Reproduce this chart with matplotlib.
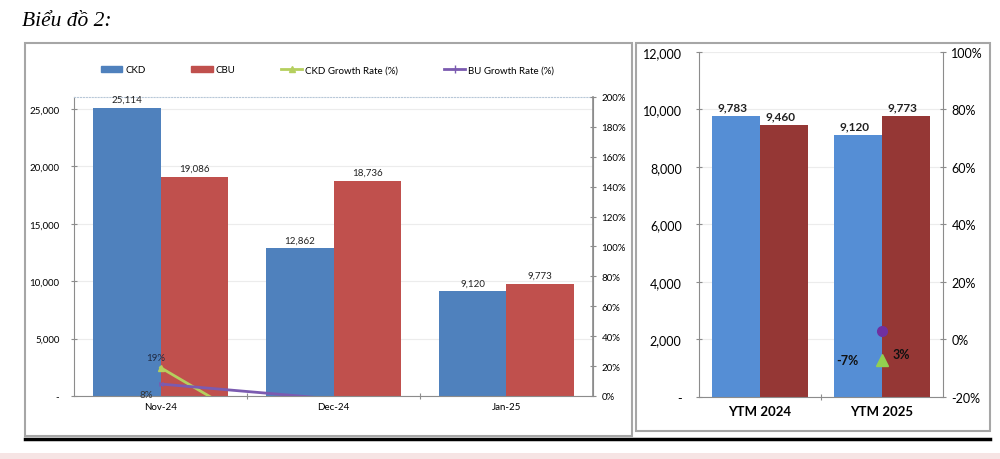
import matplotlib.pyplot as plt
import numpy as np
from matplotlib.patches import Rectangle, Patch
from matplotlib.lines import Line2D
from matplotlib.ticker import FuncFormatter, MultipleLocator

plt.rcParams['font.family'] = ['Lato', 'DejaVu Sans']

# monthly data
months = ['Nov-24', 'Dec-24', 'Jan-25']
ckd = [25114, 12862, 9120]
cbu = [19086, 18736, 9773]
ckd_growth = [19, -49, -29]
cbu_growth = [8, -2, -48]

# year-to-month data
ytm = ['YTM 2024', 'YTM 2025']
ytm_ckd = [9783, 9120]
ytm_cbu = [9460, 9773]
ytm_ckd_growth = -7
ytm_cbu_growth = 3

blue1, red1 = '#4F81BD', '#C0504D'
blue2, red2 = '#558ED5', '#953735'
green, purple = '#B5CF5E', '#7B5BB0'
grey = '#8c8c8c'


def num_fmt(v, pos):
    return '-' if v == 0 else f'{v:,.0f}'


fig = plt.figure(figsize=(10, 4.6), dpi=100)

# frames and decorations
fig.patches.append(Rectangle((0.025, 0.050), 0.607, 0.854, transform=fig.transFigure,
                             fill=False, ec='#a6a6a6', lw=1.5))
fig.patches.append(Rectangle((0.636, 0.061), 0.354, 0.843, transform=fig.transFigure,
                             fill=False, ec='#a6a6a6', lw=1.5))
fig.lines.append(Line2D([0.025, 0.99], [0.043, 0.043], transform=fig.transFigure,
                        color='black', lw=2.5))
fig.patches.append(Rectangle((0, 0), 1, 0.012, transform=fig.transFigure,
                             fc='#f6e4e4', ec='none'))
fig.text(0.022, 0.953, 'Biểu đồ 2:', family='Liberation Serif', style='italic',
         fontsize=15.5, va='center')

# ---- left chart ----
ax = fig.add_axes([0.074, 0.137, 0.519, 0.650])
x = np.arange(len(months))
w = 0.39
b1 = ax.bar(x - w / 2, ckd, w, color=blue1, zorder=2)
b2 = ax.bar(x + w / 2, cbu, w, color=red1, zorder=2)
for rects, vals in ((b1, ckd), (b2, cbu)):
    for r, v in zip(rects, vals):
        ax.text(r.get_x() + r.get_width() / 2, v + 350, f'{v:,}', ha='center',
                va='bottom', fontsize=7, color='#222222')
ax.set_xlim(-0.5, 2.5)
ax.set_ylim(0, 26045)
ax.yaxis.set_major_locator(MultipleLocator(5000))
ax.yaxis.set_major_formatter(FuncFormatter(num_fmt))
ax.set_xticks([0.5, 1.5])
ax.set_xticklabels([])
ax.set_xticks(x, minor=True)
ax.set_xticklabels(months, minor=True)
ax.tick_params(axis='x', which='minor', length=0, labelsize=7, pad=4)
ax.tick_params(axis='x', which='major', direction='inout', length=5, color=grey)
ax.tick_params(axis='y', direction='inout', length=5, color=grey, labelsize=7, pad=8)
ax.grid(axis='y', color='#ececec', lw=0.8, zorder=0)
for s in ('left', 'bottom', 'right'):
    ax.spines[s].set_color(grey)
ax.spines['top'].set_color('#b8c8d8')
ax.spines['top'].set_linestyle(':')

ax2 = ax.twinx()
ax2.plot(x, ckd_growth, color=green, lw=2, marker='^', ms=4, zorder=3)
ax2.plot(x, cbu_growth, color=purple, lw=2, marker='x', ms=3, zorder=3)
ax2.set_ylim(0, 200)
ax2.yaxis.set_major_locator(MultipleLocator(20))
ax2.yaxis.set_major_formatter(FuncFormatter(lambda v, p: f'{v:.0f}%'))
ax2.tick_params(axis='y', direction='inout', length=5, color=grey, labelsize=7)
ax2.spines['right'].set_color(grey)
ax2.spines['right'].set_linewidth(1.2)
for s in ('left', 'bottom', 'top'):
    ax2.spines[s].set_visible(False)
ax2.text(x[0] - 0.03, ckd_growth[0] + 4, f'{ckd_growth[0]}%', ha='center', va='bottom',
         fontsize=7, color='#1f2a44')
ax2.text(x[0] - 0.08, cbu_growth[0] - 10, f'{cbu_growth[0]}%', ha='center', va='bottom',
         fontsize=7, color='#333333', clip_on=False)

handles = [Patch(color=blue1), Patch(color=red1),
           Line2D([], [], color=green, lw=2, marker='^', ms=4),
           Line2D([], [], color=purple, lw=2, marker='+', ms=6)]
labels = ['CKD', 'CBU', 'CKD Growth Rate (%)', 'BU Growth Rate (%)']
fig.legend(handles, labels, loc='center left', bbox_to_anchor=(0.092, 0.846), ncol=4,
           frameon=False, fontsize=7, columnspacing=4.7, handlelength=2.2,
           handletextpad=0.3, handleheight=0.6)

# ---- right chart ----
bx = fig.add_axes([0.699, 0.135, 0.244, 0.750])
xr = np.arange(len(ytm))
c1 = bx.bar(xr - w / 2, ytm_ckd, w, color=blue2, zorder=2)
c2 = bx.bar(xr + w / 2, ytm_cbu, w, color=red2, zorder=2)
for rects, vals in ((c1, ytm_ckd), (c2, ytm_cbu)):
    for r, v in zip(rects, vals):
        bx.text(r.get_x() + r.get_width() / 2 - 0.03, v + 120, f'{v:,}', ha='center',
                va='bottom', fontsize=8.5, fontweight='bold', color='#222222')
bx.set_xlim(-0.5, 1.5)
bx.set_ylim(0, 12000)
bx.yaxis.set_major_locator(MultipleLocator(2000))
bx.yaxis.set_major_formatter(FuncFormatter(num_fmt))
bx.set_xticks([0.5])
bx.set_xticklabels([])
bx.set_xticks(xr, minor=True)
bx.set_xticklabels(ytm, minor=True, fontweight='bold')
bx.tick_params(axis='x', which='minor', length=0, labelsize=9.5, pad=6)
bx.tick_params(axis='x', which='major', direction='inout', length=5, color=grey)
bx.tick_params(axis='y', direction='inout', length=5, color=grey, labelsize=9, pad=10)
bx.grid(axis='y', color='#ececec', lw=0.8, zorder=0)
for s in ('left', 'bottom'):
    bx.spines[s].set_color(grey)
bx.spines['top'].set_visible(False)
bx.spines['right'].set_visible(False)

bx2 = bx.twinx()
bx2.plot([xr[1]], [ytm_ckd_growth], ls='none', marker='^', ms=8, color='#92D050', zorder=3)
bx2.plot([xr[1]], [ytm_cbu_growth], ls='none', marker='o', ms=7, color='#7030A0', zorder=3)
bx2.set_ylim(-20, 100)
bx2.yaxis.set_major_locator(MultipleLocator(20))
bx2.yaxis.set_major_formatter(FuncFormatter(lambda v, p: f'{v:.0f}%'))
bx2.tick_params(axis='y', direction='inout', length=5, color=grey, labelsize=9)
bx2.spines['right'].set_color(grey)
for s in ('left', 'bottom', 'top'):
    bx2.spines[s].set_visible(False)
bx2.text(xr[1] - 0.28, ytm_ckd_growth, f'{ytm_ckd_growth}%', ha='center', va='center',
         fontsize=9, fontweight='bold', color='#111111')
bx2.text(xr[1] + 0.16, ytm_cbu_growth - 8, f'{ytm_cbu_growth}%', ha='center', va='center',
         fontsize=9, fontweight='bold', color='#111111')

fig.savefig('out.png', dpi=100)
